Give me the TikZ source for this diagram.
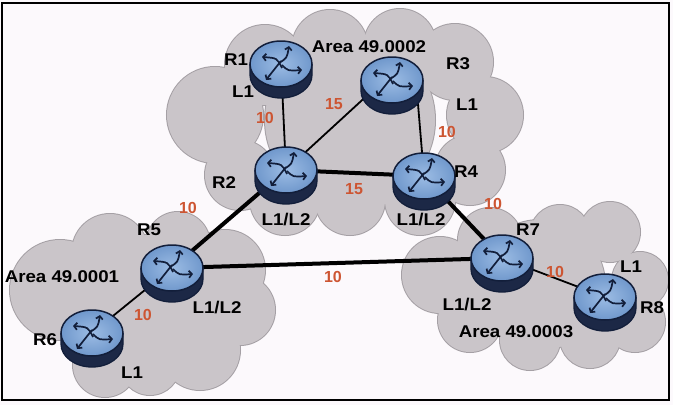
\documentclass[tikz,border=0pt]{standalone}
\usepackage{fontspec}
\setmainfont{Liberation Sans}
\newfontfamily\lblfont[FakeStretch=1.1]{Liberation Sans}
\usetikzlibrary{arrows.meta}
\definecolor{bg}{RGB}{252,249,252}
\definecolor{cloudfill}{RGB}{202,197,201}
\definecolor{cloudedge}{RGB}{165,160,165}
\definecolor{rtop}{RGB}{112,152,204}
\definecolor{rtopin}{RGB}{156,188,228}
\definecolor{rside}{RGB}{28,40,70}
\definecolor{rline}{RGB}{18,30,58}
\definecolor{cost}{RGB}{205,85,50}
\tikzset{
  lbl/.style={font=\lblfont\bfseries\fontsize{17}{17}\selectfont, text=black, inner sep=0pt},
  costlbl/.style={font=\bfseries\fontsize{16}{16}\selectfont, text=cost, inner sep=0pt},
  thinlink/.style={line width=1.8pt, draw=black},
  thicklink/.style={line width=4pt, draw=black},
  cloudout/.style={fill=cloudfill, draw=cloudedge, line width=2pt},
  cloudin/.style={fill=cloudfill},
  iconarrow/.style={draw=rline, line width=1.7pt, -{Straight Barb[length=3pt,width=7pt]}},
  router/.pic={
    \fill[rside] (-31,0) -- (-31,11) arc[start angle=180,end angle=0,x radius=31,y radius=23] -- (31,0) -- cycle;
    \draw[rline, line width=1.3pt] (-31,0) -- (-31,11) arc[start angle=180,end angle=0,x radius=31,y radius=23] -- (31,0);
    \shade[inner color=rtopin, outer color=rtop] (0,0) ellipse[x radius=31, y radius=23];
    \draw[rline, line width=1.5pt] (0,0) ellipse[x radius=31, y radius=23];
    \draw[iconarrow] (1,4) .. controls (-4,-6) .. (-19,-7);
    \draw[iconarrow] (-2,-1) .. controls (6,-6) .. (8,-18);
    \draw[iconarrow] (1,1) .. controls (7,7) .. (21,6);
    \draw[iconarrow] (0,-3) .. controls (-7,5) .. (-15,16);
  }
}
\def\topcloud{215/115/48, 265/65/40, 330/48/38, 400/45/36, 455/62/38, 485/115/38, 470/170/35, 420/200/35, 350/200/35, 285/200/35, 240/175/35, 350/120/85}
\def\leftcloud{60/290/50, 110/252/38, 178/244/32, 225/270/40, 240/310/35, 200/350/40, 150/365/30, 105/365/32, 150/305/70}
\def\rightcloud{440/275/38, 490/240/32, 560/235/30, 610/232/30, 640/280/28, 635/322/30, 590/338/30, 530/340/30, 470/320/32, 540/285/65}
\begin{document}
\begin{tikzpicture}[x=1pt, y=-1pt]
\useasboundingbox (0,0) rectangle (673,405);
\fill[bg] (0,0) rectangle (673,405);
% clouds
\foreach \cx/\cy/\r in \topcloud {\path[cloudout] (\cx,\cy) circle[radius=\r];}
\foreach \cx/\cy/\r in \leftcloud {\path[cloudout] (\cx,\cy) circle[radius=\r];}
\foreach \cx/\cy/\r in \rightcloud {\path[cloudout] (\cx,\cy) circle[radius=\r];}
\foreach \cx/\cy/\r in \topcloud {\path[cloudin] (\cx,\cy) circle[radius=\r];}
\foreach \cx/\cy/\r in \leftcloud {\path[cloudin] (\cx,\cy) circle[radius=\r];}
\foreach \cx/\cy/\r in \rightcloud {\path[cloudin] (\cx,\cy) circle[radius=\r];}
% router positions
\coordinate (r1) at (281,64);
\coordinate (r2) at (286,170);
\coordinate (r3) at (392,80);
\coordinate (r4) at (424,176);
\coordinate (r5) at (172,268);
\coordinate (r6) at (92,333);
\coordinate (r7) at (502,258);
\coordinate (r8) at (605,297);
% links
\draw[thinlink] (r1) -- (r2);
\draw[thinlink] (r2) -- ([xshift=-8pt]r3);
\draw[thinlink] ([xshift=24pt]r3) -- (r4);
\draw[thicklink] (r2) -- (r4);
\draw[thicklink] (r2) -- (r5);
\draw[thicklink] (r4) -- (r7);
\draw[thicklink] (r5) -- (r7);
\draw[thinlink] (r5) -- (r6);
\draw[thinlink] (r7) -- (r8);
% routers
\foreach \n in {r1,r2,r3,r4,r5,r6,r7,r8} {\pic at (\n) {router};}
% labels
\node[lbl] (a2) at (369,47) {Area 49.0002};
\node[lbl] (l1n) at (236,60) {R1};
\node[lbl] (l1l) at (243,92) {L1};
\node[lbl] (l3n) at (458,64) {R3};
\node[lbl] (l3l) at (467,105) {L1};
\node[costlbl] (c12) at (265,118) {10};
\node[costlbl] (c23) at (334,104) {15};
\node[costlbl] (c34) at (447,132) {10};
\node[lbl] (l2n) at (224,183) {R2};
\node[lbl] (l4n) at (466,172) {R4};
\node[costlbl] (c24) at (354,189) {15};
\node[lbl] (l2l) at (286,220) {L1/L2};
\node[lbl] (l4l) at (421,220) {L1/L2};
\node[costlbl] (c47) at (493,204) {10};
\node[costlbl] (c25) at (188,208) {10};
\node[lbl] (l5n) at (149,230) {R5};
\node[lbl] (a1) at (62,277) {Area 49.0001};
\node[costlbl] (c56) at (143,315) {10};
\node[lbl] (l5l) at (217,308) {L1/L2};
\node[lbl] (l6n) at (45,340) {R6};
\node[lbl] (l6l) at (132,373) {L1};
\node[costlbl] (c57) at (333,277) {10};
\node[lbl] (l7n) at (528,230) {R7};
\node[costlbl] (c78) at (555,272) {10};
\node[lbl] (l8l) at (631,267) {L1};
\node[lbl] (l8n) at (652,308) {R8};
\node[lbl] (l7l) at (467,305) {L1/L2};
\node[lbl] (a3) at (516,332) {Area 49.0003};
% frame
\draw[line width=2.5pt] (2,3) rectangle (669,400);
\end{tikzpicture}
\end{document}
